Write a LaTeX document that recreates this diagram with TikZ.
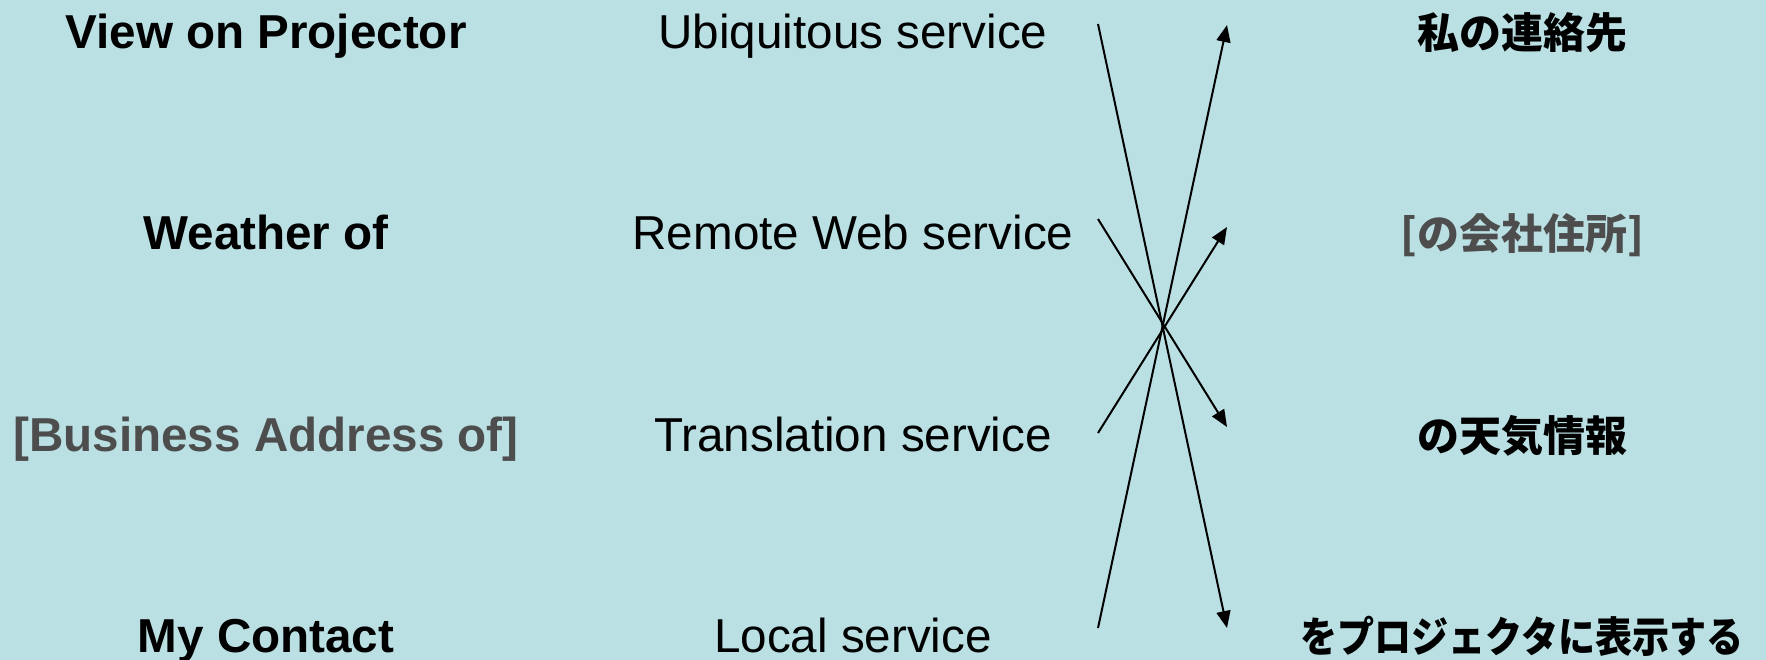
\documentclass[tikz,border=0pt]{standalone}
\usepackage{fontspec}
\setmainfont{Liberation Sans}
\newfontfamily\jpfont{Noto Sans CJK JP}
\usetikzlibrary{arrows.meta}
\definecolor{bgc}{RGB}{186,224,227}
\definecolor{greytxt}{RGB}{77,77,77}
\tikzset{
  lbl/.style={anchor=base, inner sep=0pt, font=\fontsize{47.6}{57}\selectfont\bfseries},
  svc/.style={anchor=base, inner sep=0pt, font=\fontsize{47.6}{57}\selectfont},
  jlbl/.style={anchor=base, inner sep=0pt, font=\fontsize{42}{50}\selectfont\jpfont\bfseries},
  link/.style={line width=2pt, draw=black},
  arr/.style={link, -{Triangle[length=17pt,width=14pt]}},
}
\begin{document}
\begin{tikzpicture}[x=1pt,y=-1pt]
\fill[bgc] (0,0) rectangle (1766,660);
\useasboundingbox (0,0) rectangle (1766,660);

% left column
\node[lbl] (l1) at (266,49) {View on Projector};
\node[lbl] (l2) at (266,250) {Weather of};
\node[lbl, text=greytxt] (l3) at (266,451) {[Business Address of]};
\node[lbl] (l4) at (266,652) {My Contact};

% middle column
\node[svc] (m1) at (853,49) {Ubiquitous service};
\node[svc] (m2) at (853,250) {Remote Web service};
\node[svc] (m3) at (853,451) {Translation service};
\node[svc] (m4) at (853,652) {Local service};

% right column
\node[jlbl] (r1) at (1522,49) {私の連絡先};
\node[jlbl, text=greytxt] (r2) at (1522,250) {[の会社住所]};
\node[jlbl] (r3) at (1522,451) {の天気情報};
\node[jlbl] (r4) at (1522,652) {\scalebox{0.883}[1]{をプロジェクタに表示する}};

% connector ends
\coordinate (s1) at (1098,24);
\coordinate (s2) at (1098,219);
\coordinate (s3) at (1098,433);
\coordinate (s4) at (1098,628);
\coordinate (e1) at (1227,25);
\coordinate (e2) at (1227,227);
\coordinate (e3) at (1227,427);
\coordinate (e4) at (1227,628);

\draw[arr] (s1) -- (e4);
\draw[arr] (s2) -- (e3);
\draw[arr] (s3) -- (e2);
\draw[arr] (s4) -- (e1);
\end{tikzpicture}
\end{document}
